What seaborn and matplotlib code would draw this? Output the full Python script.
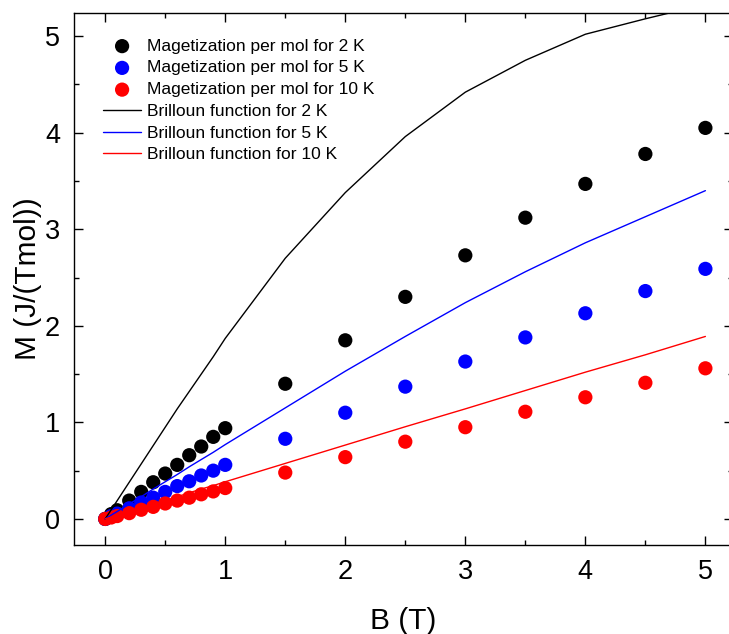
import matplotlib
matplotlib.use("Agg")
import matplotlib.pyplot as plt
import seaborn as sns
import pandas as pd
from matplotlib.ticker import MultipleLocator

# Data
B = [0, 0.05, 0.1, 0.2, 0.3, 0.4, 0.5, 0.6, 0.7, 0.8, 0.9, 1.0,
     1.5, 2.0, 2.5, 3.0, 3.5, 4.0, 4.5, 5.0]
M_2K = [0, 0.05, 0.09, 0.19, 0.28, 0.38, 0.47, 0.56, 0.66, 0.75, 0.85, 0.94,
        1.40, 1.85, 2.30, 2.73, 3.12, 3.47, 3.78, 4.05]
M_5K = [0, 0.03, 0.055, 0.11, 0.17, 0.22, 0.28, 0.34, 0.39, 0.45, 0.50, 0.56,
        0.83, 1.10, 1.37, 1.63, 1.88, 2.13, 2.36, 2.59]
M_10K = [0, 0.015, 0.03, 0.06, 0.095, 0.125, 0.16, 0.19, 0.22, 0.255, 0.285, 0.32,
         0.48, 0.64, 0.80, 0.95, 1.11, 1.26, 1.41, 1.56]
BR_2K = [0, 0.095, 0.19, 0.38, 0.57, 0.76, 0.95, 1.14, 1.32, 1.50, 1.68, 1.87,
         2.70, 3.38, 3.96, 4.42, 4.75, 5.02, 5.18, 5.33]
BR_5K = [0, 0.04, 0.077, 0.155, 0.23, 0.31, 0.385, 0.46, 0.54, 0.615, 0.69, 0.77,
         1.15, 1.53, 1.89, 2.24, 2.56, 2.86, 3.13, 3.40]
BR_10K = [0, 0.019, 0.038, 0.077, 0.115, 0.155, 0.19, 0.23, 0.27, 0.31, 0.345, 0.385,
          0.575, 0.765, 0.955, 1.14, 1.33, 1.52, 1.70, 1.89]

temps = ["2 K", "5 K", "10 K"]
colors = ["black", "blue", "red"]
meas = [M_2K, M_5K, M_10K]
brill = [BR_2K, BR_5K, BR_10K]

sns.set_style("ticks")
plt.rcParams['font.family'] = ['Liberation Sans', 'DejaVu Sans']
plt.rcParams['text.color'] = 'black'
plt.rcParams['axes.labelcolor'] = 'black'
plt.rcParams['xtick.color'] = 'black'
plt.rcParams['ytick.color'] = 'black'

fig = plt.figure(figsize=(7.29, 6.34), dpi=100)
ax = fig.add_axes([74/729, 1-545/634, (733-74)/729, (545-13)/634])

for t, c, m in zip(temps, colors, meas):
    df = pd.DataFrame({"B": B, "M": m})
    sns.scatterplot(data=df, x="B", y="M", ax=ax, color=c, s=105, edgecolor="none",
                    label=f"Magetization per mol for {t}", zorder=2)
for t, c, br in zip(temps, colors, brill):
    df = pd.DataFrame({"B": B, "M": br})
    sns.lineplot(data=df, x="B", y="M", ax=ax, color=c, linewidth=1.0,
                 label=f"Brilloun function for {t}", zorder=3, sort=False)

ax.set_xlim(-0.26, 5.23)
ax.set_ylim(-0.27, 5.24)
ax.xaxis.set_major_locator(MultipleLocator(1))
ax.xaxis.set_minor_locator(MultipleLocator(0.5))
ax.yaxis.set_major_locator(MultipleLocator(1))
ax.yaxis.set_minor_locator(MultipleLocator(0.5))
ax.tick_params(which="both", direction="in", top=True, right=True, width=1.0,
               color="black", labelcolor="black")
ax.tick_params(which="major", length=6.5, labelsize=19.5)
ax.tick_params(axis="x", which="major", pad=10)
ax.tick_params(axis="y", which="major", pad=10)
ax.tick_params(which="minor", length=3.5)
for sp in ax.spines.values():
    sp.set_linewidth(1.0)
    sp.set_color("black")

ax.set_xlabel("B (T)", fontsize=21.5, labelpad=16, color="black")
ax.set_ylabel("M (J/(Tmol))", fontsize=21.5, labelpad=2, color="black")

handles, labels = ax.get_legend_handles_labels()
leg = ax.legend(handles, labels, loc="upper left", bbox_to_anchor=(0.044, 0.952),
                frameon=False, fontsize=12.5, handlelength=2.2, handletextpad=0.35,
                labelspacing=0.38, borderpad=0, borderaxespad=0, markerscale=1.0)

fig.savefig("out.png", dpi=100)
